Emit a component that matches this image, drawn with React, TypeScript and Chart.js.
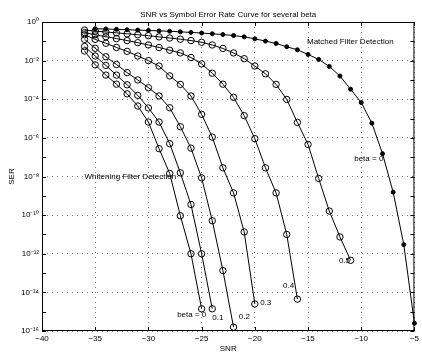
import React, { useEffect, useRef } from "react";
import { Chart, registerables } from "chart.js";

Chart.register(...registerables);

// SNR values (dB), 1 dB steps
const SNR = [
  -36, -35, -34, -33, -32, -31, -30, -29, -28, -27, -26, -25, -24, -23, -22, -21,
  -20, -19, -18, -17, -16, -15, -14, -13, -12, -11, -10, -9, -8, -7, -6, -5,
];

// log10(SER)
// Whitening filter detection curves start at -36 dB
const beta0 = [-1.5, -2.22, -2.75, -3.22, -3.72, -4.35, -5.18, -6.56, -7.84, -10.03, -12.0, -14.85];
const beta01 = [-1.27, -1.76, -2.25, -2.75, -3.25, -3.8, -4.45, -5.18, -6.3, -7.81, -9.45, -12.0, -14.85];
const beta02 = [-0.9, -1.36, -1.8, -2.2, -2.62, -3.0, -3.4, -3.83, -4.44, -5.42, -6.53, -8.07, -10.29, -12.87, -15.8];
const beta03 = [-0.66, -0.9, -1.1, -1.32, -1.52, -1.76, -2.0, -2.28, -2.79, -3.23, -3.83, -4.78, -5.96, -7.55, -8.85, -10.87, -14.6];
const beta04 = [-0.55, -0.66, -0.76, -0.86, -0.96, -1.07, -1.19, -1.32, -1.46, -1.6, -1.84, -2.17, -2.65, -3.22, -3.9, -4.85, -6.04, -7.55, -8.85, -11.0, -14.35];
const beta05 = [-0.42, -0.47, -0.52, -0.56, -0.61, -0.66, -0.71, -0.77, -0.83, -0.89, -0.96, -1.05, -1.19, -1.37, -1.6, -1.9, -2.28, -2.68, -3.23, -4.01, -5.2, -6.34, -8.1, -9.79, -11.13, -12.34];
// Matched filter detection starts at -35 dB
const matched = [-0.35, -0.36, -0.38, -0.4, -0.42, -0.44, -0.46, -0.48, -0.51, -0.54, -0.57, -0.61, -0.65, -0.7, -0.77, -0.87, -0.99, -1.11, -1.28, -1.44, -1.68, -1.94, -2.3, -2.8, -3.48, -4.17, -5.24, -6.82, -8.81, -11.53, -15.6];

const whiteningSeries = [beta0, beta01, beta02, beta03, beta04, beta05];
const whiteningNames = ["beta = 0", "beta = 0.1", "beta = 0.2", "beta = 0.3", "beta = 0.4", "beta = 0.5"];
const whiteningStartSnr = -36;
const matchedStartSnr = -35;

// axis ticks
const xTickValues = [-40, -35, -30, -25, -20, -15, -10, -5];
const yLabelExponents = [0, -2, -4, -6, -8, -10, -12, -14, -16];
const yDecadeExponents = [0, -1, -2, -3, -4, -5, -6, -7, -8, -9, -10, -11, -12, -13, -14, -15, -16];

// texts
const titleText = "SNR vs Symbol Error Rate Curve for several beta";
const xTitle = "SNR";
const yTitle = "SER";
const noteTexts = ["Matched Filter Detection", "Whitening Filter Detection", "beta = 0", "beta = 0", "0.1", "0.2", "0.3", "0.4", "0.5"];
const noteSnr = [-15.1, -36.0, -10.66, -27.3, -24.0, -21.5, -19.5, -17.35, -12.1];
const noteLogSer = [-1.01, -8.03, -7.09, -15.14, -15.3, -15.26, -14.52, -13.64, -12.34];

const SUP: Record<string, string> = {
  "0": "\u2070", "1": "\u00b9", "2": "\u00b2", "3": "\u00b3", "4": "\u2074",
  "5": "\u2075", "6": "\u2076", "7": "\u2077", "8": "\u2078", "9": "\u2079", "-": "\u207b",
};
const supExp = (e: number) => "10" + String(e).split("").map((c) => SUP[c] || c).join("");
const fmtX = (v: number) => (v < 0 ? "\u2212" + Math.abs(v) : String(v));

const FONT = '"Liberation Sans", Arial, Helvetica, sans-serif';

const toPoints = (vals: number[], startSnr: number) => {
  const i0 = SNR.indexOf(startSnr);
  return vals.map((v, i) => ({ x: SNR[i0 + i], y: Math.pow(10, v) }));
};

const decorPlugin = {
  id: "decor",
  afterDraw(chart: any) {
    const { ctx, chartArea: a, scales } = chart;
    const xs = scales.x;
    const ys = scales.y;
    ctx.save();
    ctx.strokeStyle = "#000";
    ctx.lineWidth = 1;
    ctx.strokeRect(a.left + 0.5, a.top + 0.5, a.right - a.left - 1, a.bottom - a.top - 1);
    ctx.beginPath();
    for (const v of xTickValues) {
      const px = Math.round(xs.getPixelForValue(v)) + 0.5;
      ctx.moveTo(px, a.bottom);
      ctx.lineTo(px, a.bottom - 4);
      ctx.moveTo(px, a.top);
      ctx.lineTo(px, a.top + 4);
    }
    for (const e of yDecadeExponents) {
      const py = Math.round(ys.getPixelForValue(Math.pow(10, e))) + 0.5;
      ctx.moveTo(a.left, py);
      ctx.lineTo(a.left + 4, py);
      ctx.moveTo(a.right, py);
      ctx.lineTo(a.right - 4, py);
    }
    ctx.stroke();

    ctx.fillStyle = "#000";
    ctx.font = "8px " + FONT;
    ctx.textAlign = "center";
    ctx.textBaseline = "middle";
    ctx.fillText(titleText, (a.left + a.right) / 2, 14.5);
    ctx.fillText(xTitle, (a.left + a.right) / 2, 349);
    ctx.save();
    ctx.translate(12, (a.top + a.bottom) / 2);
    ctx.rotate(-Math.PI / 2);
    ctx.fillText(yTitle, 0, 0);
    ctx.restore();

    ctx.textAlign = "left";
    for (let i = 0; i < noteTexts.length; i++) {
      const px = xs.getPixelForValue(noteSnr[i]);
      const py = ys.getPixelForValue(Math.pow(10, noteLogSer[i]));
      ctx.fillText(noteTexts[i], px, py);
    }
    ctx.restore();
  },
};

export default function App() {
  const ref = useRef<HTMLCanvasElement | null>(null);
  useEffect(() => {
    if (!ref.current) return;
    Chart.defaults.font.family = FONT;
    Chart.defaults.font.size = 8;
    Chart.defaults.color = "#000";
    const datasets: any[] = whiteningSeries.map((vals, k) => ({
      label: whiteningNames[k],
      data: toPoints(vals, whiteningStartSnr),
      borderColor: "#000",
      borderWidth: 1,
      backgroundColor: "rgba(0,0,0,0)",
      pointStyle: "circle",
      pointRadius: 3.2,
      pointBorderWidth: 1,
      pointBorderColor: "#000",
      pointBackgroundColor: "rgba(0,0,0,0)",
      tension: 0,
      clip: 6,
    }));
    datasets.push({
      label: "Matched Filter beta = 0",
      data: toPoints(matched, matchedStartSnr),
      borderColor: "#000",
      borderWidth: 1,
      backgroundColor: "#000",
      pointStyle: "circle",
      pointRadius: 2,
      pointBorderWidth: 1,
      pointBorderColor: "#000",
      pointBackgroundColor: "#000",
      tension: 0,
      clip: 6,
    });
    const chart = new Chart(ref.current, {
      type: "line",
      data: { datasets },
      options: {
        animation: false,
        responsive: false,
        maintainAspectRatio: false,
        layout: { padding: { top: 22, right: 3, left: 0, bottom: 0 } },
        plugins: { legend: { display: false }, tooltip: { enabled: false }, title: { display: false } },
        scales: {
          x: {
            type: "linear",
            min: -40,
            max: -5,
            border: { display: false, dash: [1, 4] },
            grid: { color: "#777", lineWidth: 1, drawTicks: false },
            ticks: {
              stepSize: 5,
              autoSkip: false,
              maxRotation: 0,
              padding: 3,
              font: { size: 8, family: FONT },
              color: "#000",
              callback: (v: any) => fmtX(Number(v)),
            },
            afterFit: (s: any) => {
              s.height = 23;
            },
          },
          y: {
            type: "logarithmic",
            min: 1e-16,
            max: 1,
            border: { display: false, dash: [1, 4] },
            grid: { color: "#777", lineWidth: 1, drawTicks: false },
            afterBuildTicks: (s: any) => {
              s.ticks = yLabelExponents.map((e) => ({ value: Math.pow(10, e), major: false }));
            },
            ticks: {
              autoSkip: false,
              padding: 3,
              font: { size: 8, family: FONT },
              color: "#000",
              callback: (v: any) => supExp(Math.round(Math.log10(Number(v)))),
            },
            afterFit: (s: any) => {
              s.width = 42;
            },
          },
        },
      },
      plugins: [decorPlugin],
    } as any);
    return () => chart.destroy();
  }, []);
  return (
    <div style={{ position: "absolute", left: 0, top: 0, width: 422, height: 354, background: "#fff" }}>
      <canvas ref={ref} width={422} height={354} style={{ display: "block" }} />
    </div>
  );
}
